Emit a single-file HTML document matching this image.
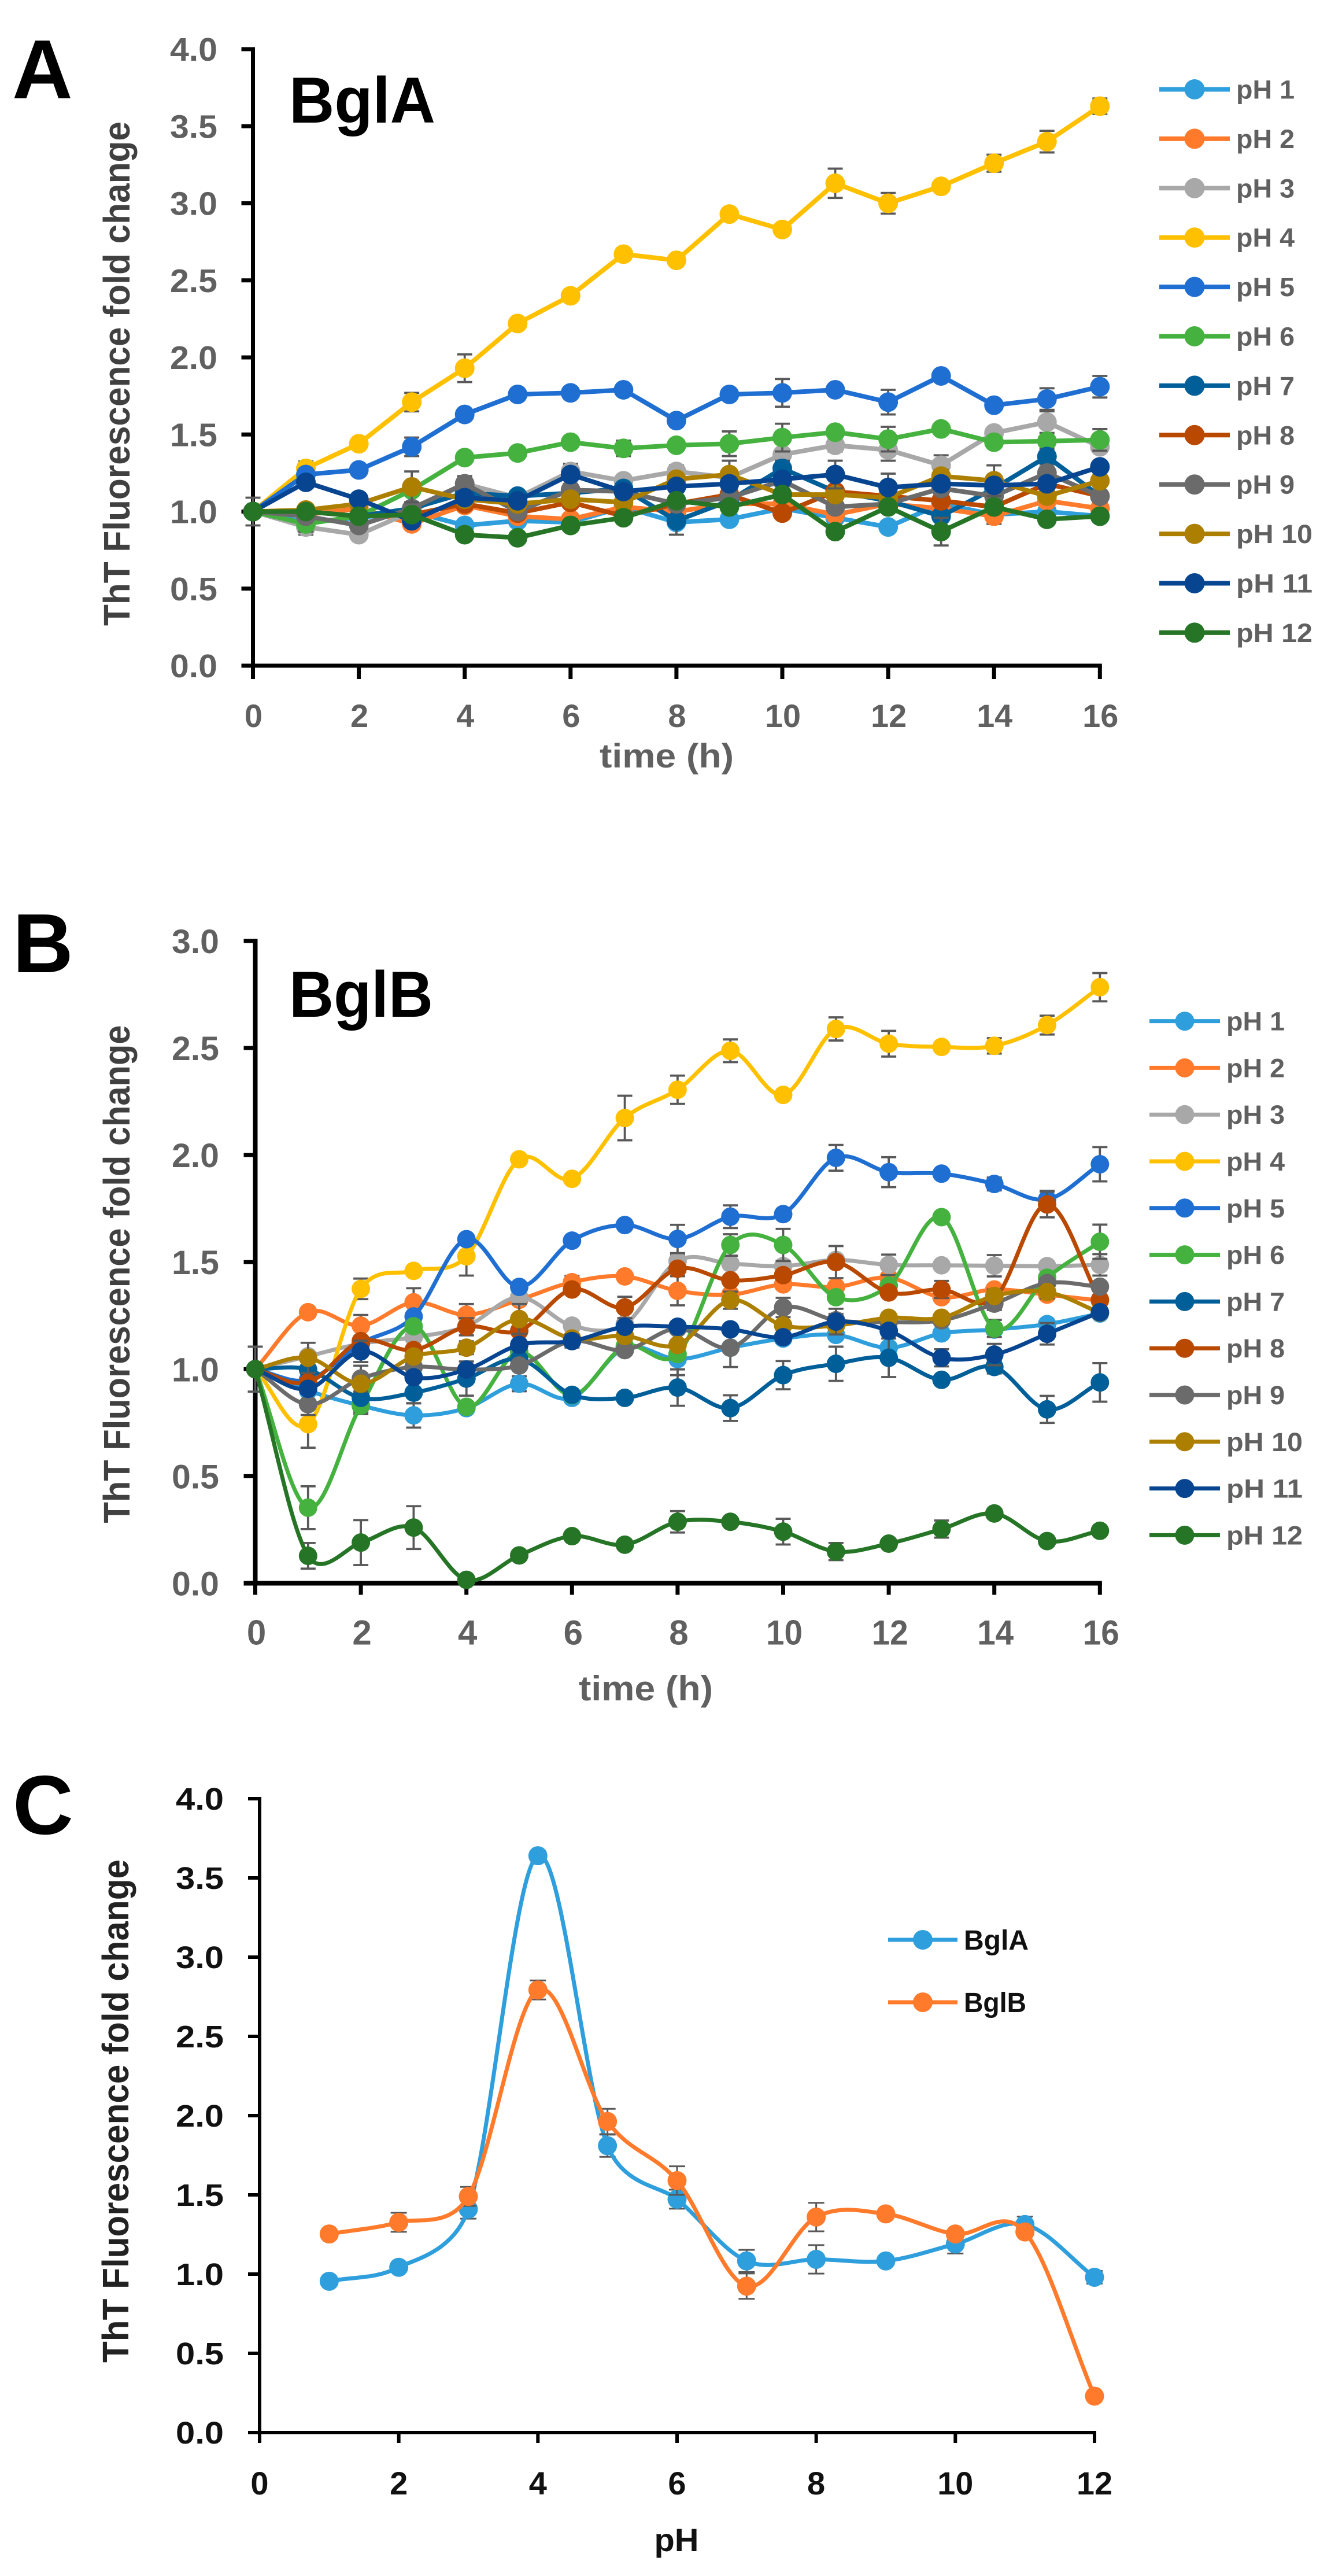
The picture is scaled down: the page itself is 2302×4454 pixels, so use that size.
<!DOCTYPE html>
<html lang="en">
<head>
<meta charset="utf-8">
<title>ThT Fluorescence fold change: BglA and BglB</title>
<style>
html,body{margin:0;padding:0;background:#fff;}
svg{display:block;font-family:"Liberation Sans",sans-serif;}
</style>
</head>
<body>
<svg id="figure" xmlns="http://www.w3.org/2000/svg" width="2302" height="4454" viewBox="0 0 2302 4454">
<rect x="0" y="0" width="2302" height="4454" fill="#ffffff"/>
<text x="21" y="170" font-size="145" font-weight="700" fill="#000">A</text>
<text x="22" y="1681" font-size="145" font-weight="700" fill="#000">B</text>
<text x="22" y="3171" font-size="145" font-weight="700" fill="#000">C</text>
<text x="500" y="212" font-size="112" font-weight="700" fill="#000" textLength="253" lengthAdjust="spacingAndGlyphs">BglA</text>
<text x="500" y="1758" font-size="112" font-weight="700" fill="#000" textLength="249" lengthAdjust="spacingAndGlyphs">BglB</text>
<text transform="translate(224 646) rotate(-90)" text-anchor="middle" font-size="64" font-weight="700" fill="#404040" textLength="872" lengthAdjust="spacingAndGlyphs">ThT Fluorescence fold change</text>
<text transform="translate(224 2203) rotate(-90)" text-anchor="middle" font-size="64" font-weight="700" fill="#404040" textLength="861" lengthAdjust="spacingAndGlyphs">ThT Fluorescence fold change</text>
<text transform="translate(222 3650) rotate(-90)" text-anchor="middle" font-size="64" font-weight="700" fill="#222" textLength="870" lengthAdjust="spacingAndGlyphs">ThT Fluorescence fold change</text>
<text x="1037" y="1327" font-size="58" font-weight="700" fill="#606060" textLength="232" lengthAdjust="spacingAndGlyphs">time (h)</text>
<text x="1001" y="2940" font-size="60" font-weight="700" fill="#606060" textLength="232" lengthAdjust="spacingAndGlyphs">time (h)</text>
<text x="1170" y="4411" text-anchor="middle" font-size="56" font-weight="700" fill="#111" textLength="77" lengthAdjust="spacingAndGlyphs">pH</text>
<g id="panel-a"></g>
<g id="panel-b"></g>
<g id="panel-c"></g>
</svg>
<script>
const hours = [0,1,2,3,4,5,6,7,8,9,10,11,12,13,14,15,16];
const hourTicks = [0,2,4,6,8,10,12,14,16];
const yTicksA = [0,0.5,1,1.5,2,2.5,3,3.5,4];
const yTicksB = [0,0.5,1,1.5,2,2.5,3];
const pHNames = ['pH 1','pH 2','pH 3','pH 4','pH 5','pH 6','pH 7','pH 8','pH 9','pH 10','pH 11','pH 12'];
const pHColors = ['#2E9FDC','#FF7A2B','#A8A8A8','#FFC000','#1F6FD2','#45B23F','#005F99','#B94800','#6B6B6B','#AD7F00','#074590','#267526'];

// Panel A: BglA fold change by pH
const a1  = [1,.93,.96,1.0,.91,.94,.93,1.03,.93,.95,1.02,.96,.90,1.05,.98,1.0,.97];
const a2  = [1,.98,1.02,.92,1.04,.97,.95,1.03,1.0,1.05,1.05,.98,1.05,1.02,.97,1.07,1.02];
const a3  = [1,.90,.85,1.0,1.18,1.09,1.26,1.20,1.26,1.22,1.37,1.43,1.40,1.30,1.51,1.58,1.42];
const a4  = [1,1.28,1.44,1.71,1.93,2.22,2.40,2.67,2.63,2.93,2.83,3.13,3.00,3.11,3.26,3.40,3.63];
const a5  = [1,1.24,1.27,1.42,1.63,1.76,1.77,1.79,1.59,1.76,1.77,1.79,1.71,1.88,1.69,1.73,1.81];
const a6  = [1,.92,.97,1.14,1.35,1.38,1.45,1.41,1.43,1.44,1.48,1.515,1.47,1.536,1.45,1.457,1.465];
const a7  = [1,1.0,.97,1.02,1.12,1.10,1.12,1.15,.94,1.07,1.28,1.13,1.07,.97,1.15,1.357,1.10];
const a8  = [1,1.0,.97,.98,1.05,.99,1.06,.97,1.05,1.11,.99,1.13,1.10,1.07,1.03,1.18,1.10];
const a9  = [1,.97,.91,1.02,1.18,1.0,1.14,1.13,1.05,1.09,1.20,1.03,1.05,1.15,1.10,1.25,1.10];
const a10 = [1,1.01,1.05,1.16,1.08,1.05,1.08,1.06,1.21,1.24,1.11,1.11,1.09,1.23,1.20,1.10,1.20];
const a11 = [1,1.19,1.08,.94,1.09,1.07,1.24,1.13,1.163,1.18,1.21,1.24,1.156,1.18,1.17,1.18,1.29];
const a12 = [1,1.0,.97,.98,.85,.83,.91,.96,1.07,1.03,1.11,.87,1.03,.87,1.03,.95,.97];
const seriesA = [a1,a2,a3,a4,a5,a6,a7,a8,a9,a10,a11,a12];
const aErr1  = [0,.03,0,0,.03,0,0,0,0,0,0,0,0,0,0,0,0];
const aErr2  = [0,0,0,.03,0,0,0,0,0,0,0,0,0,0,.05,0,0];
const aErr3  = [.09,.05,.03,0,.04,0,.05,0,.04,.03,0,.04,.07,.065,0,.07,0];
const aErr4  = [0,.045,0,.06,.09,.03,.02,.03,.02,.02,.02,.095,.067,.02,.055,.07,.05];
const aErr5  = [0,0,0,.06,.02,.02,.02,.02,.02,.02,.09,.02,.08,.02,.02,.07,.07];
const aErr6  = [0,.05,0,.02,.02,.03,.02,.05,.02,.08,.09,.02,.08,.02,.02,.02,.07];
const aErr7  = [0,0,0,0,0,.02,0,0,.09,0,.05,0,0,0,.03,.05,0];
const aErr8  = [0,0,0,0,0,0,0,0,0,0,.03,0,0,0,0,0,0];
const aErr9  = [0,0,0,.03,.05,.03,.04,0,0,0,.03,0,.03,0,.03,.04,0];
const aErr10 = [0,.02,0,.1,0,0,0,0,0,.09,0,.03,0,.04,.1,0,0];
const aErr11 = [0,0,0,0,.03,0,0,0,0,0,0,.09,.09,0,0,0,0];
const aErr12 = [0,0,0,0,0,0,0,0,0,0,.03,0,0,.09,0,0,0];
const errorsA = [aErr1,aErr2,aErr3,aErr4,aErr5,aErr6,aErr7,aErr8,aErr9,aErr10,aErr11,aErr12];

// Panel B: BglB fold change by pH
const b1  = [1,.90,.83,.784,.818,.932,.866,1.10,1.047,1.10,1.143,1.16,1.10,1.167,1.185,1.21,1.26];
const b2  = [1,1.266,1.203,1.312,1.254,1.324,1.406,1.433,1.366,1.348,1.396,1.384,1.427,1.336,1.372,1.348,1.32];
const b3  = [1,1.06,1.119,1.149,1.20,1.336,1.203,1.21,1.505,1.493,1.481,1.51,1.487,1.485,1.483,1.481,1.487];
const b4  = [1,.743,1.375,1.459,1.527,1.98,1.889,2.173,2.305,2.487,2.281,2.589,2.52,2.505,2.51,2.607,2.784];
const b5  = [1,.95,1.12,1.246,1.607,1.384,1.60,1.673,1.608,1.712,1.724,1.987,1.92,1.913,1.865,1.793,1.957];
const b6  = [1,.353,.83,1.20,.824,1.08,.878,1.107,1.07,1.58,1.58,1.336,1.39,1.71,1.19,1.427,1.595];
const b7  = [1,.998,.866,.89,.956,1.047,.88,.866,.914,.818,.972,1.025,1.053,.95,1.01,.812,.938];
const b8  = [1,.938,1.131,1.089,1.198,1.179,1.372,1.288,1.469,1.415,1.439,1.50,1.358,1.372,1.33,1.769,1.324];
const b9  = [1,.836,.956,1.01,.998,1.017,1.131,1.089,1.19,1.10,1.288,1.228,1.22,1.228,1.306,1.402,1.385];
const b10 = [1,1.053,.932,1.059,1.10,1.234,1.143,1.155,1.113,1.322,1.204,1.204,1.24,1.24,1.342,1.36,1.264];
const b11 = [1,.908,1.083,.962,.998,1.113,1.131,1.198,1.198,1.186,1.149,1.222,1.179,1.053,1.068,1.165,1.266];
const b12 = [1,.128,.19,.26,.016,.13,.22,.18,.287,.287,.241,.148,.185,.253,.326,.197,.245];
const seriesB = [b1,b2,b3,b4,b5,b6,b7,b8,b9,b10,b11,b12];
const bErr1  = [0,0,.04,.057,0,.035,0,0,.075,0,0,0,0,0,0,0,0];
const bErr2  = [0,0,.05,.066,.05,0,.03,0,.068,0,0,0,0,0,0,0,0];
const bErr3  = [0,0,0,0,0,.03,0,0,.03,0,0,0,.048,0,.05,0,.05];
const bErr4  = [0,.11,.048,0,.09,0,0,.104,.066,.053,0,.054,.06,0,.036,.044,.066];
const bErr5  = [0,0,0,0,0,0,0,0,.066,.053,0,.06,.07,0,.03,.04,.08];
const bErr6  = [0,.10,.03,0,0,0,0,0,0,.05,.075,0,0,0,.04,0,.08];
const bErr7  = [0,0,0,.05,.08,0,0,0,.085,.06,.066,.08,.09,0,.03,.063,.09];
const bErr8  = [0,0,0,0,.04,0,0,.05,0,0,0,.075,0,.04,0,.06,0];
const bErr9  = [.105,.05,.06,0,0,0,0,0,0,.09,.045,.03,0,0,.03,0,0];
const bErr10 = [0,.07,0,0,.03,.07,0,0,0,.04,0,0,0,0,.03,.03,0];
const bErr11 = [0,0,.05,0,0,0,.03,0,0,0,0,.06,0,.04,.05,.05,0];
const bErr12 = [0,.06,.105,.10,0,0,0,0,.05,0,.06,.04,0,.04,0,0,0];
const errorsB = [bErr1,bErr2,bErr3,bErr4,bErr5,bErr6,bErr7,bErr8,bErr9,bErr10,bErr11,bErr12];

// Panel C: end-point fold change vs pH
const pHValues = [1,2,3,4,5,6,7,8,9,10,11,12];
const pHTicks = [0,2,4,6,8,10,12];
const bglAValues = [.955,1.043,1.41,3.64,1.81,1.473,1.083,1.093,1.083,1.19,1.313,.98];
const bglBValues = [1.253,1.327,1.49,2.793,1.963,1.59,.924,1.36,1.38,1.253,1.266,.23];
const bglAErrors = [0,0,.06,.03,.07,.06,.07,.09,0,.06,.05,.04];
const bglBErrors = [0,.06,.06,.06,.08,.09,.08,.09,0,0,0,0];
const bglNames = ['BglA','BglB'];
const bglColors = ['#2E9FDC','#FF7A2B'];

const NS = 'http://www.w3.org/2000/svg';

function make(parent, tag, name) {
  const el = document.createElementNS(NS, tag);
  
  
  parent.appendChild(el);
  return el;
}
function seg(parent, x1, y1, x2, y2, color, w, name) {
  const l = make(parent, 'line', name);
  l.setAttribute('x1', x1); l.setAttribute('y1', y1);
  l.setAttribute('x2', x2); l.setAttribute('y2', y2);
  l.setAttribute('stroke', color); l.setAttribute('stroke-width', w);
  return l;
}
function label(parent, x, y, str, size, color, anchor, len, name) {
  const t = make(parent, 'text', name);
  t.setAttribute('x', x); t.setAttribute('y', y);
  t.setAttribute('font-size', size);
  t.setAttribute('font-weight', '700');
  t.setAttribute('fill', color);
  t.setAttribute('text-anchor', anchor);
  if (len) {
    t.setAttribute('textLength', len);
    t.setAttribute('lengthAdjust', 'spacingAndGlyphs');
  }
  t.textContent = str;
  return t;
}
function dist(a, b) { return Math.hypot(a[0] - b[0], a[1] - b[1]); }
// Spreadsheet-style smoothed line: tangents are limited when neighbours are far away.
function pathFor(pts, smooth) {
  let d = 'M' + pts[0][0] + ' ' + pts[0][1];
  const n = pts.length - 1;
  for (let i = 0; i < n; i++) {
    if (!smooth) { d += 'L' + pts[i + 1][0] + ' ' + pts[i + 1][1]; continue; }
    const p0 = pts[Math.max(i - 1, 0)], p1 = pts[i], p2 = pts[i + 1], p3 = pts[Math.min(i + 2, n)];
    const d02 = dist(p0, p2), d12 = dist(p1, p2), d13 = dist(p1, p3);
    let f1, f2;
    if (d02 / 6 < d12 / 2 && d13 / 6 < d12 / 2) {
      f1 = i === 0 ? 1 / 3 : 1 / 6;
      f2 = i === n - 1 ? 1 / 3 : 1 / 6;
    } else if (d02 / 6 >= d12 / 2 && d13 / 6 >= d12 / 2) {
      f1 = d12 / d02 / 2;
      f2 = d12 / d13 / 2;
    } else if (d02 / 6 >= d12 / 2) {
      f1 = d12 / d02 / 2;
      f2 = d12 / d13 / 2 * (d13 / d02);
    } else {
      f1 = d12 / d02 / 2 * (d02 / d13);
      f2 = d12 / d13 / 2;
    }
    const c1x = p1[0] + (p2[0] - p0[0]) * f1, c1y = p1[1] + (p2[1] - p0[1]) * f1;
    const c2x = p2[0] - (p3[0] - p1[0]) * f2, c2y = p2[1] - (p3[1] - p1[1]) * f2;
    d += 'C' + c1x + ' ' + c1y + ' ' + c2x + ' ' + c2y + ' ' + p2[0] + ' ' + p2[1];
  }
  return d;
}
function drawChart(cfg) {
  const g = document.getElementById(cfg.id);
  const sx = v => cfg.x0 + cfg.xUnit * v;
  const sy = v => cfg.y0 - cfg.yUnit * v;
  const baseY = sy(0), topY = sy(cfg.yTicks[cfg.yTicks.length - 1]);
  const endX = sx(cfg.xTicks[cfg.xTicks.length - 1]);

  cfg.yTicks.forEach(v => {
    seg(g, cfg.x0 - 20, sy(v), cfg.x0, sy(v), '#000', cfg.tickW, 'y-tick');
    label(g, cfg.yLabelX, sy(v) + cfg.yLabelDy, v.toFixed(1), cfg.yLabelSize, cfg.textColor, 'end', cfg.yLabelLen, 'y-tick-label');
  });
  cfg.xTicks.forEach(v => {
    seg(g, sx(v), baseY, sx(v), baseY + cfg.tickLen, '#000', cfg.tickW, 'x-tick');
    label(g, sx(v) + cfg.xLabelDx, baseY + cfg.xLabelDy, String(v), cfg.xLabelSize, cfg.textColor, 'middle', v > 9 ? cfg.xLabelLen : 0, 'x-tick-label');
  });
  seg(g, cfg.x0, topY - cfg.tickW / 2, cfg.x0, baseY + cfg.tickW / 2, '#000', cfg.axisW, 'y-axis-line');
  seg(g, cfg.x0 - 20, baseY, endX + cfg.tickW / 2, baseY, '#000', cfg.axisW, 'x-axis-line');

  cfg.series.forEach((vals, s) => {
    const sg = make(g, 'g', 'series-' + cfg.names[s].toLowerCase().replace(' ', '-'));
    const errs = cfg.errors[s];
    cfg.xs.forEach((xv, i) => {
      if (!errs[i]) return;
      const x = sx(xv), hi = sy(vals[i] + errs[i]), lo = sy(Math.max(vals[i] - errs[i], 0));
      seg(sg, x, hi, x, lo, '#595959', cfg.errW, 'error-bar');
      seg(sg, x - cfg.capW, hi, x + cfg.capW, hi, '#595959', cfg.errW, 'error-cap-top');
      seg(sg, x - cfg.capW, lo, x + cfg.capW, lo, '#595959', cfg.errW, 'error-cap-bottom');
    });
    const pts = cfg.xs.map((xv, i) => [sx(xv), sy(vals[i])]);
    const p = make(sg, 'path', 'series-line');
    p.setAttribute('d', pathFor(pts, cfg.smooth));
    p.setAttribute('fill', 'none');
    p.setAttribute('stroke', cfg.colors[s]);
    p.setAttribute('stroke-width', cfg.lineW);
    p.setAttribute('stroke-linejoin', 'round');
    pts.forEach(pt => {
      const c = make(sg, 'circle', 'series-point');
      c.setAttribute('cx', pt[0]);
      c.setAttribute('cy', pt[1]);
      c.setAttribute('r', cfg.r);
      c.setAttribute('fill', cfg.colors[s]);
    });
    const ly = cfg.legY + cfg.legStep * s;
    const entry = make(g, 'g', 'legend-entry');
    seg(entry, cfg.legX1, ly, cfg.legX2, ly, cfg.colors[s], cfg.lineW, 'legend-line');
    const m = make(entry, 'circle', 'legend-marker');
    m.setAttribute('cx', (cfg.legX1 + cfg.legX2) / 2);
    m.setAttribute('cy', ly);
    m.setAttribute('r', cfg.r + 0.5);
    m.setAttribute('fill', cfg.colors[s]);
    label(entry, cfg.legTextX, ly + cfg.legDy, cfg.names[s], cfg.legSize, cfg.textColor, 'start', cfg.legLen(cfg.names[s]), 'legend-label');
  });
}
const legWidth = n => n.length > 4 ? 132 : 101;

drawChart({
  id: 'panel-a', xs: hours, xTicks: hourTicks, yTicks: yTicksA, series: seriesA, errors: errorsA, names: pHNames, colors: pHColors,
  x0: 437.5, xUnit: 91.55, y0: 1151, yUnit: 266.5, smooth: false,
  tickW: 7, tickLen: 23, axisW: 7, lineW: 8, r: 17, errW: 3.8, capW: 13, textColor: '#606060',
  yLabelX: 376, yLabelDy: 20, yLabelSize: 57, yLabelLen: 82, xLabelDx: 1, xLabelDy: 106, xLabelSize: 56, xLabelLen: 62,
  legX1: 2005, legX2: 2127, legY: 154.5, legStep: 85.4, legTextX: 2138, legDy: 16, legSize: 45, legLen: legWidth
});
drawChart({
  id: 'panel-b', xs: hours, xTicks: hourTicks, yTicks: yTicksB, series: seriesB, errors: errorsB, names: pHNames, colors: pHColors,
  x0: 441.5, xUnit: 91.3, y0: 2737.5, yUnit: 370.2, smooth: true,
  tickW: 7, tickLen: 20, axisW: 8, lineW: 7, r: 16, errW: 3.8, capW: 13, textColor: '#606060',
  yLabelX: 379, yLabelDy: 21, yLabelSize: 58, yLabelLen: 82, xLabelDx: 2, xLabelDy: 106, xLabelSize: 60, xLabelLen: 63,
  legX1: 1988, legX2: 2110, legY: 1765.6, legStep: 80.8, legTextX: 2121, legDy: 16, legSize: 45, legLen: legWidth
});
drawChart({
  id: 'panel-c', xs: pHValues, xTicks: pHTicks, yTicks: yTicksA, series: [bglAValues, bglBValues], errors: [bglAErrors, bglBErrors], names: bglNames, colors: bglColors,
  x0: 449, xUnit: 120.33, y0: 4206, yUnit: 274, smooth: true,
  tickW: 6, tickLen: 18, axisW: 6, lineW: 7, r: 16.5, errW: 3, capW: 14, textColor: '#111',
  yLabelX: 387, yLabelDy: 19, yLabelSize: 54, yLabelLen: 83, xLabelDx: 0, xLabelDy: 107, xLabelSize: 56, xLabelLen: 62,
  legX1: 1536, legX2: 1656, legY: 3354, legStep: 108, legTextX: 1667, legDy: 17, legSize: 48, legLen: n => n === 'BglA' ? 112 : 108
});
</script>
</body>
</html>
